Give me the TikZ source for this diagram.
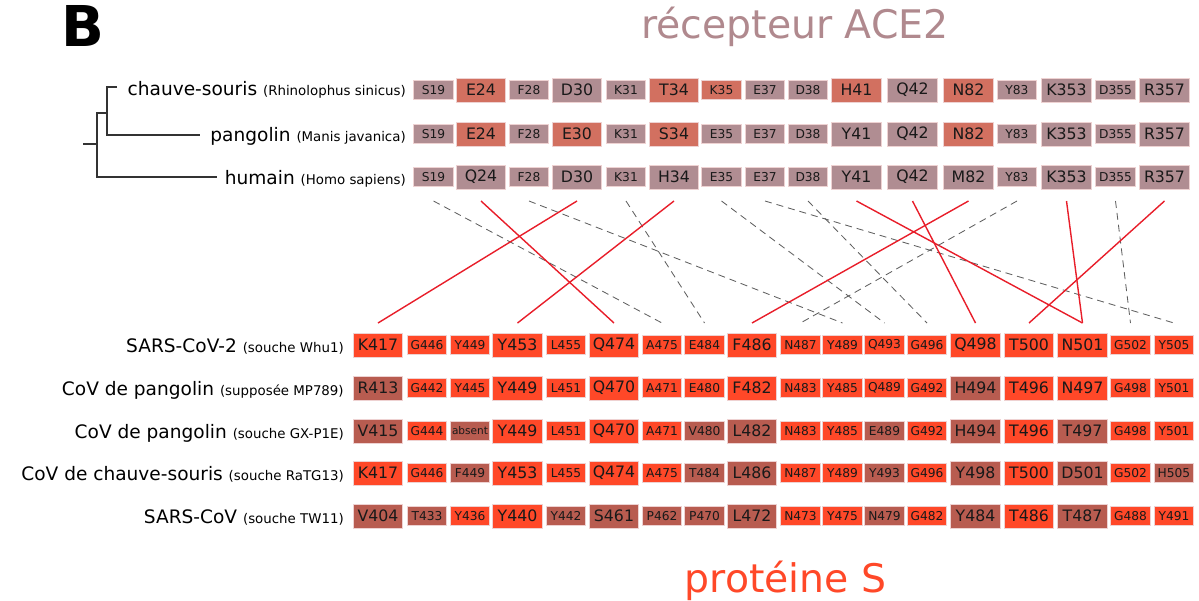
\documentclass[tikz,border=0pt]{standalone}
\usepackage{fontspec}
\setmainfont{DejaVu Sans}
\usepackage{tikz}
\pgfdeclarelayer{edgelayer}
\pgfdeclarelayer{nodelayer}
\pgfsetlayers{edgelayer,nodelayer,main}
\definecolor{recgrey}{RGB}{176,141,146}
\definecolor{recred}{RGB}{210,112,96}
\definecolor{spkred}{RGB}{255,72,40}
\definecolor{spkbrown}{RGB}{184,92,80}
\definecolor{boxline}{RGB}{238,210,210}
\definecolor{boxtext}{RGB}{25,25,25}
\definecolor{linered}{RGB}{232,30,42}
\definecolor{linegrey}{RGB}{95,95,95}
\definecolor{titlegrey}{RGB}{176,137,142}
\newcommand{\ptext}[1]{{\fontsize{9.5}{11}\selectfont #1}}
\tikzstyle{none}=[inner sep=0pt]
\tikzstyle{box}=[inner sep=0pt, draw=boxline, line width=0.6pt, text=boxtext]
\tikzstyle{bigbox}=[box, minimum width=1.24cm, minimum height=0.6cm, font=\fontsize{11.2}{11.2}\selectfont]
\tikzstyle{smallbox}=[box, minimum width=0.99cm, minimum height=0.46cm, font=\fontsize{8.7}{8.7}\selectfont]
\tikzstyle{recbig}=[bigbox, fill=recgrey]
\tikzstyle{recsmall}=[smallbox, fill=recgrey]
\tikzstyle{hotbig}=[bigbox, fill=recred]
\tikzstyle{hotsmall}=[smallbox, fill=recred]
\tikzstyle{spkbig}=[bigbox, fill=spkred]
\tikzstyle{spksmall}=[smallbox, fill=spkred]
\tikzstyle{mutbig}=[bigbox, fill=spkbrown]
\tikzstyle{mutsmall}=[smallbox, fill=spkbrown]
\tikzstyle{species}=[inner sep=0pt, anchor=base east, font=\fontsize{13.2}{16}\selectfont]
\tikzstyle{tree}=[draw=black!80, line width=0.75pt]
\tikzstyle{contact}=[draw=linered, line width=1pt]
\tikzstyle{weak}=[draw=linegrey, line width=0.6pt, dash pattern=on 5pt off 3.5pt]

\begin{document}
\begin{tikzpicture}[x=0.025cm, y=-0.025cm]
	\useasboundingbox (0,0) rectangle (1199,600);
	\begin{pgfonlayer}{nodelayer}
		\node [style=none, anchor=base, font=\fontsize{40}{40}\selectfont\bfseries] (9) at (83, 46) {B};
		\node [style=none, anchor=base, text=titlegrey, font=\fontsize{28}{34}\selectfont] (10) at (795, 38) {récepteur ACE2};
		\node [style=none, anchor=base, text=spkred, font=\fontsize{28}{34}\selectfont] (11) at (785.5, 592) {protéine S};

		\node [style=species] (1) at (406, 95) {chauve-souris \ptext{(Rhinolophus sinicus)}};
		\node [style=species] (2) at (406, 141) {pangolin \ptext{(Manis javanica)}};
		\node [style=species] (3) at (406, 184) {humain \ptext{(Homo sapiens)}};
		\node [style=species] (4) at (344, 352) {SARS-CoV-2 \ptext{(souche Whu1)}};
		\node [style=species] (5) at (344, 395) {CoV de pangolin \ptext{(supposée MP789)}};
		\node [style=species] (6) at (344, 438) {CoV de pangolin \ptext{(souche GX-P1E)}};
		\node [style=species] (7) at (344, 480) {CoV de chauve-souris \ptext{(souche RaTG13)}};
		\node [style=species] (8) at (344, 523) {SARS-CoV \ptext{(souche TW11)}};

		% ACE2, chauve-souris
		\node [style=recsmall] (101) at (433.5, 90) {S19};
		\node [style=hotbig] (102) at (481, 90) {E24};
		\node [style=recsmall] (103) at (529, 90) {F28};
		\node [style=recbig] (104) at (577, 90) {D30};
		\node [style=recsmall] (105) at (626, 90) {K31};
		\node [style=hotbig] (106) at (674, 90) {T34};
		\node [style=hotsmall] (107) at (721.5, 90) {K35};
		\node [style=recsmall] (108) at (765, 90) {E37};
		\node [style=recsmall] (109) at (808, 90) {D38};
		\node [style=hotbig] (110) at (856.5, 90) {H41};
		\node [style=recbig] (111) at (912.5, 90) {Q42};
		\node [style=hotbig] (112) at (968.5, 90) {N82};
		\node [style=recsmall] (113) at (1017, 90) {Y83};
		\node [style=recbig] (114) at (1066.5, 90) {K353};
		\node [style=recsmall] (115) at (1115.5, 90) {D355};
		\node [style=recbig] (116) at (1164.5, 90) {R357};

		% ACE2, pangolin
		\node [style=recsmall] (201) at (433.5, 134) {S19};
		\node [style=hotbig] (202) at (481, 134) {E24};
		\node [style=recsmall] (203) at (529, 134) {F28};
		\node [style=hotbig] (204) at (577, 134) {E30};
		\node [style=recsmall] (205) at (626, 134) {K31};
		\node [style=hotbig] (206) at (674, 134) {S34};
		\node [style=recsmall] (207) at (721.5, 134) {E35};
		\node [style=recsmall] (208) at (765, 134) {E37};
		\node [style=recsmall] (209) at (808, 134) {D38};
		\node [style=recbig] (210) at (856.5, 134) {Y41};
		\node [style=recbig] (211) at (912.5, 134) {Q42};
		\node [style=hotbig] (212) at (968.5, 134) {N82};
		\node [style=recsmall] (213) at (1017, 134) {Y83};
		\node [style=recbig] (214) at (1066.5, 134) {K353};
		\node [style=recsmall] (215) at (1115.5, 134) {D355};
		\node [style=recbig] (216) at (1164.5, 134) {R357};

		% ACE2, humain
		\node [style=recsmall] (301) at (433.5, 177) {S19};
		\node [style=recbig] (302) at (481, 177) {Q24};
		\node [style=recsmall] (303) at (529, 177) {F28};
		\node [style=recbig] (304) at (577, 177) {D30};
		\node [style=recsmall] (305) at (626, 177) {K31};
		\node [style=recbig] (306) at (674, 177) {H34};
		\node [style=recsmall] (307) at (721.5, 177) {E35};
		\node [style=recsmall] (308) at (765, 177) {E37};
		\node [style=recsmall] (309) at (808, 177) {D38};
		\node [style=recbig] (310) at (856.5, 177) {Y41};
		\node [style=recbig] (311) at (912.5, 177) {Q42};
		\node [style=recbig] (312) at (968.5, 177) {M82};
		\node [style=recsmall] (313) at (1017, 177) {Y83};
		\node [style=recbig] (314) at (1066.5, 177) {K353};
		\node [style=recsmall] (315) at (1115.5, 177) {D355};
		\node [style=recbig] (316) at (1164.5, 177) {R357};

		% S, SARS-CoV-2
		\node [style=spkbig] (401) at (378, 345) {K417};
		\node [style=spksmall] (402) at (427, 345) {G446};
		\node [style=spksmall] (403) at (470, 345) {Y449};
		\node [style=spkbig] (404) at (517.5, 345) {Y453};
		\node [style=spksmall] (405) at (566, 345) {L455};
		\node [style=spkbig] (406) at (614, 345) {Q474};
		\node [style=spksmall] (407) at (662, 345) {A475};
		\node [style=spksmall] (408) at (704.5, 345) {E484};
		\node [style=spkbig] (409) at (752, 345) {F486};
		\node [style=spksmall] (410) at (800.5, 345) {N487};
		\node [style=spksmall] (411) at (842.5, 345) {Y489};
		\node [style=spksmall] (412) at (884.5, 345) {Q493};
		\node [style=spksmall] (413) at (927, 345) {G496};
		\node [style=spkbig] (414) at (975.5, 345) {Q498};
		\node [style=spkbig] (415) at (1029, 345) {T500};
		\node [style=spkbig] (416) at (1082.5, 345) {N501};
		\node [style=spksmall] (417) at (1130.5, 345) {G502};
		\node [style=spksmall] (418) at (1174, 345) {Y505};

		% S, pangolin MP789
		\node [style=mutbig] (501) at (378, 388) {R413};
		\node [style=spksmall] (502) at (427, 388) {G442};
		\node [style=spksmall] (503) at (470, 388) {Y445};
		\node [style=spkbig] (504) at (517.5, 388) {Y449};
		\node [style=spksmall] (505) at (566, 388) {L451};
		\node [style=spkbig] (506) at (614, 388) {Q470};
		\node [style=spksmall] (507) at (662, 388) {A471};
		\node [style=spksmall] (508) at (704.5, 388) {E480};
		\node [style=spkbig] (509) at (752, 388) {F482};
		\node [style=spksmall] (510) at (800.5, 388) {N483};
		\node [style=spksmall] (511) at (842.5, 388) {Y485};
		\node [style=spksmall] (512) at (884.5, 388) {Q489};
		\node [style=spksmall] (513) at (927, 388) {G492};
		\node [style=mutbig] (514) at (975.5, 388) {H494};
		\node [style=spkbig] (515) at (1029, 388) {T496};
		\node [style=spkbig] (516) at (1082.5, 388) {N497};
		\node [style=spksmall] (517) at (1130.5, 388) {G498};
		\node [style=spksmall] (518) at (1174, 388) {Y501};

		% S, pangolin GX-P1E
		\node [style=mutbig] (601) at (378, 431) {V415};
		\node [style=spksmall] (602) at (427, 431) {G444};
		\node [style=mutsmall, font=\fontsize{7.5}{7.5}\selectfont] (603) at (470, 431) {absent};
		\node [style=spkbig] (604) at (517.5, 431) {Y449};
		\node [style=spksmall] (605) at (566, 431) {L451};
		\node [style=spkbig] (606) at (614, 431) {Q470};
		\node [style=spksmall] (607) at (662, 431) {A471};
		\node [style=mutsmall] (608) at (704.5, 431) {V480};
		\node [style=mutbig] (609) at (752, 431) {L482};
		\node [style=spksmall] (610) at (800.5, 431) {N483};
		\node [style=spksmall] (611) at (842.5, 431) {Y485};
		\node [style=mutsmall] (612) at (884.5, 431) {E489};
		\node [style=spksmall] (613) at (927, 431) {G492};
		\node [style=mutbig] (614) at (975.5, 431) {H494};
		\node [style=spkbig] (615) at (1029, 431) {T496};
		\node [style=mutbig] (616) at (1082.5, 431) {T497};
		\node [style=spksmall] (617) at (1130.5, 431) {G498};
		\node [style=spksmall] (618) at (1174, 431) {Y501};

		% S, chauve-souris RaTG13
		\node [style=spkbig] (701) at (378, 473) {K417};
		\node [style=spksmall] (702) at (427, 473) {G446};
		\node [style=mutsmall] (703) at (470, 473) {F449};
		\node [style=spkbig] (704) at (517.5, 473) {Y453};
		\node [style=spksmall] (705) at (566, 473) {L455};
		\node [style=spkbig] (706) at (614, 473) {Q474};
		\node [style=spksmall] (707) at (662, 473) {A475};
		\node [style=mutsmall] (708) at (704.5, 473) {T484};
		\node [style=mutbig] (709) at (752, 473) {L486};
		\node [style=spksmall] (710) at (800.5, 473) {N487};
		\node [style=spksmall] (711) at (842.5, 473) {Y489};
		\node [style=mutsmall] (712) at (884.5, 473) {Y493};
		\node [style=spksmall] (713) at (927, 473) {G496};
		\node [style=mutbig] (714) at (975.5, 473) {Y498};
		\node [style=spkbig] (715) at (1029, 473) {T500};
		\node [style=mutbig] (716) at (1082.5, 473) {D501};
		\node [style=spksmall] (717) at (1130.5, 473) {G502};
		\node [style=mutsmall] (718) at (1174, 473) {H505};

		% S, SARS-CoV TW11
		\node [style=mutbig] (801) at (378, 516) {V404};
		\node [style=mutsmall] (802) at (427, 516) {T433};
		\node [style=spksmall] (803) at (470, 516) {Y436};
		\node [style=spkbig] (804) at (517.5, 516) {Y440};
		\node [style=mutsmall] (805) at (566, 516) {Y442};
		\node [style=mutbig] (806) at (614, 516) {S461};
		\node [style=mutsmall] (807) at (662, 516) {P462};
		\node [style=mutsmall] (808) at (704.5, 516) {P470};
		\node [style=mutbig] (809) at (752, 516) {L472};
		\node [style=spksmall] (810) at (800.5, 516) {N473};
		\node [style=spksmall] (811) at (842.5, 516) {Y475};
		\node [style=mutsmall] (812) at (884.5, 516) {N479};
		\node [style=spksmall] (813) at (927, 516) {G482};
		\node [style=mutbig] (814) at (975.5, 516) {Y484};
		\node [style=spkbig] (815) at (1029, 516) {T486};
		\node [style=mutbig] (816) at (1082.5, 516) {T487};
		\node [style=spksmall] (817) at (1130.5, 516) {G488};
		\node [style=spksmall] (818) at (1174, 516) {Y491};

		\coordinate (12) at (0, 201);
		\coordinate (13) at (0, 323);
	\end{pgfonlayer}
	\begin{pgfonlayer}{edgelayer}
		% arbre
		\draw [style=tree] (117, 87) -| (107, 135) -- (200, 135);
		\draw [style=tree] (107, 113) -| (97, 177) -- (217, 177);
		\draw [style=tree] (83, 144) -- (97, 144);
		% contacts
		\draw [style=weak] (301 |- 12) to (407 |- 13);
		\draw [style=contact] (302 |- 12) to (406 |- 13);
		\draw [style=weak] (303 |- 12) to (411 |- 13);
		\draw [style=contact] (304 |- 12) to (401 |- 13);
		\draw [style=weak] (305 |- 12) to (408 |- 13);
		\draw [style=contact] (306 |- 12) to (404 |- 13);
		\draw [style=weak] (307 |- 12) to (412 |- 13);
		\draw [style=weak] (308 |- 12) to (418 |- 13);
		\draw [style=weak] (309 |- 12) to (413 |- 13);
		\draw [style=contact] (310 |- 12) to (416 |- 13);
		\draw [style=contact] (311 |- 12) to (414 |- 13);
		\draw [style=contact] (312 |- 12) to (409 |- 13);
		\draw [style=weak] (313 |- 12) to (410 |- 13);
		\draw [style=contact] (314 |- 12) to (416 |- 13);
		\draw [style=weak] (315 |- 12) to (417 |- 13);
		\draw [style=contact] (316 |- 12) to (415 |- 13);
	\end{pgfonlayer}
\end{tikzpicture}
\end{document}
